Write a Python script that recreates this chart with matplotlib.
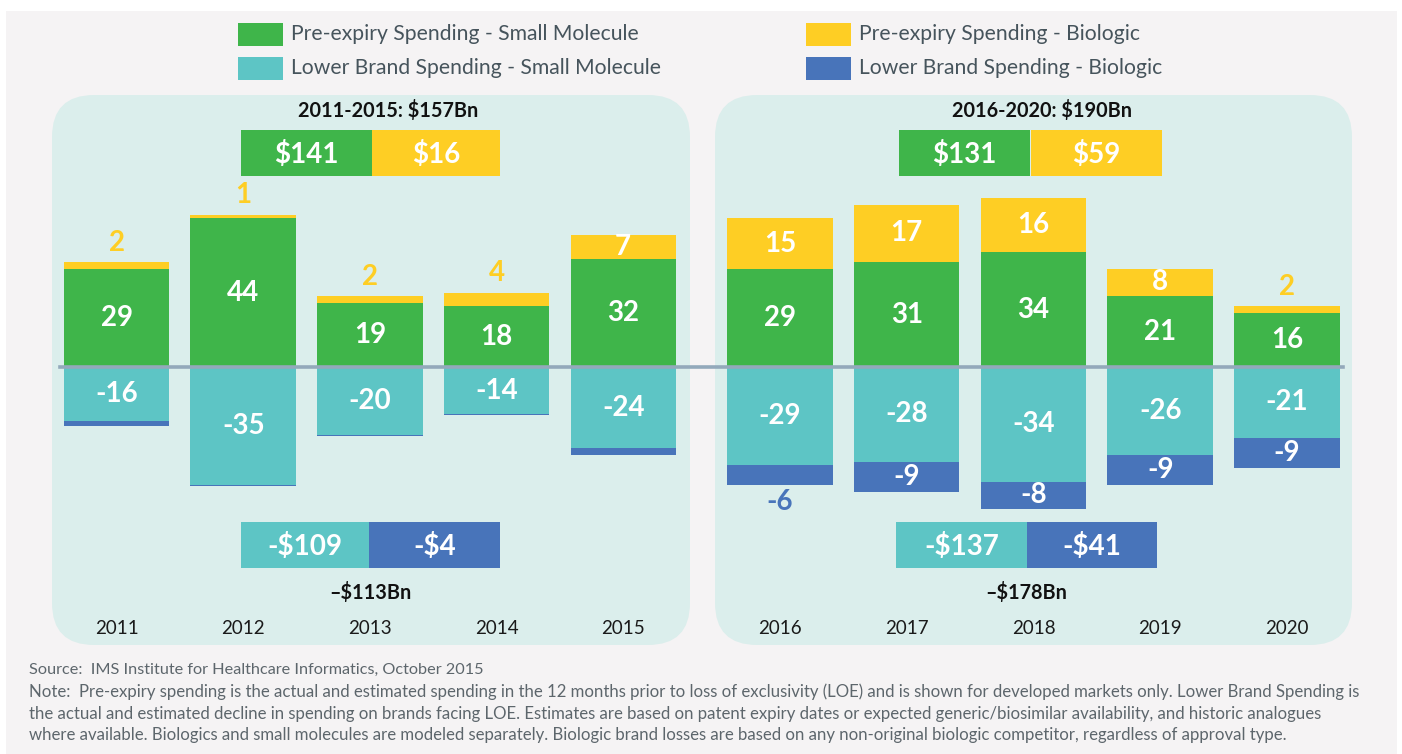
import matplotlib
matplotlib.use("Agg")
import matplotlib.pyplot as plt
from matplotlib.patches import FancyBboxPatch, Rectangle
import numpy as np

plt.rcParams['font.family'] = ['Lato', 'DejaVu Sans']

# ---------------- data ----------------
years = ['2011', '2012', '2013', '2014', '2015', '2016', '2017', '2018', '2019', '2020']
pre_small = [29, 44, 19, 18, 32, 29, 31, 34, 21, 16]
pre_bio = [2, 1, 2, 4, 7, 15, 17, 16, 8, 2]
lower_small = [-16, -35, -20, -14, -24, -29, -28, -34, -26, -21]
lower_bio = [-1.5, -0.3, -0.4, -0.3, -2, -6, -9, -8, -9, -9]
show_bio_neg_label = [False] * 5 + [True] * 5

periods = ['2011-2015', '2016-2020']
period_pre_small = [141, 131]
period_pre_bio = [16, 59]
period_pre_total = [157, 190]
period_lower_small = [-109, -137]
period_lower_bio = [-4, -41]
period_lower_total = [-113, -178]

legend_labels = ['Pre-expiry Spending - Small Molecule', 'Lower Brand Spending - Small Molecule',
                 'Pre-expiry Spending - Biologic', 'Lower Brand Spending - Biologic']

source_text = "Source:  IMS Institute for Healthcare Informatics, October 2015"
note_lines = [
    "Note:  Pre-expiry spending is the actual and estimated spending in the 12 months prior to loss of exclusivity (LOE) and is shown for developed markets only. Lower Brand Spending is",
    "the actual and estimated decline in spending on brands facing LOE. Estimates are based on patent expiry dates or expected generic/biosimilar availability, and historic analogues",
    "where available. Biologics and small molecules are modeled separately. Biologic brand losses are based on any non-original biologic competitor, regardless of approval type.",
]

# ---------------- style ----------------
GREEN = '#3fb54a'
YELLOW = '#fece24'
TEAL = '#5dc5c5'
BLUE = '#4874ba'
PANEL = '#dbeeec'
BG = '#f5f3f4'
ZERO = '#93a9bb'
LEG_TXT = '#46545c'
NOTE_TXT = '#5d666c'
BOLD = 'bold'

W, H = 1402, 754
fig = plt.figure(figsize=(W / 100, H / 100), dpi=100)
fig.patch.set_facecolor('white')

# background / decoration axes in pixel coordinates
bg = fig.add_axes([0, 0, 1, 1], zorder=0)
bg.set_xlim(0, W)
bg.set_ylim(H, 0)
bg.axis('off')
bg.add_patch(Rectangle((6, 11), 1391, 743, facecolor=BG, edgecolor='none'))
for x0, x1 in [(52, 690), (715, 1352)]:
    bg.add_patch(FancyBboxPatch((x0, 95), x1 - x0, 550,
                                boxstyle='round,pad=0,rounding_size=42',
                                facecolor=PANEL, edgecolor='none'))

# legend
leg_colors = [GREEN, TEAL, YELLOW, BLUE]
leg_pos = [(238, 23), (238, 57), (806, 23), (806, 57)]
for (lx, ly), c, lab in zip(leg_pos, leg_colors, legend_labels):
    bg.add_patch(Rectangle((lx, ly), 45, 23, facecolor=c, edgecolor='none'))
    bg.text(lx + 53, ly + 11.5, lab, fontsize=15.2, color=LEG_TXT, va='center', ha='left')

# footnotes
bg.text(29, 670, source_text, fontsize=11.7, color=NOTE_TXT, va='center', ha='left')
for i, line in enumerate(note_lines):
    bg.text(29, 692 + 21.7 * i, line, fontsize=12.1, color=NOTE_TXT, va='center', ha='left')

# period summary boxes
sum_specs = [
    dict(top_box=(241, 372, 500), bot_box=(241, 369, 500), title_x=388, total_x=370),
    dict(top_box=(899, 1030, 1162), bot_box=(896, 1027, 1157), title_x=1042, total_x=1026),
]
for k, spec in enumerate(sum_specs):
    a, b, c = spec['top_box']
    bg.add_patch(Rectangle((a, 130), b - a, 46, facecolor=GREEN, edgecolor='none'))
    bg.add_patch(Rectangle((b + k, 130), c - b - k, 46, facecolor=YELLOW, edgecolor='none'))
    bg.text((a + b) / 2, 154, f'${period_pre_small[k]}', fontsize=20, fontweight=BOLD,
            color='white', ha='center', va='center')
    bg.text((b + c) / 2, 154, f'${period_pre_bio[k]}', fontsize=20, fontweight=BOLD,
            color='white', ha='center', va='center')
    bg.text(spec['title_x'], 111, f'{periods[k]}: ${period_pre_total[k]}Bn', fontsize=14.3,
            fontweight=BOLD, color='#111111', ha='center', va='center')
    a, b, c = spec['bot_box']
    bg.add_patch(Rectangle((a, 522), b - a, 46, facecolor=TEAL, edgecolor='none'))
    bg.add_patch(Rectangle((b, 522), c - b, 46, facecolor=BLUE, edgecolor='none'))
    bg.text((a + b) / 2, 546, f'-${-period_lower_small[k]}', fontsize=20, fontweight=BOLD,
            color='white', ha='center', va='center')
    bg.text((b + c) / 2, 546, f'-${-period_lower_bio[k]}', fontsize=20, fontweight=BOLD,
            color='white', ha='center', va='center')
    bg.text(spec['total_x'], 592, f'\u2013${-period_lower_total[k]}Bn', fontsize=14.3,
            fontweight=BOLD, color='#111111', ha='center', va='center')

# ---------------- bars axes ----------------
unit_px = 126.7          # pixels per category step
x0_px = 116.5            # centre of first bar
gap_shift = 5.237        # position of the first bar of the second period
px_per_val = 3.38
zero_px = 367

ax = fig.add_axes([0, 0, 1, 1], zorder=1)
ax.patch.set_alpha(0)
ax.axis('off')
ax.set_xlim(-x0_px / unit_px, (W - x0_px) / unit_px)
ax.set_ylim(-(H - zero_px) / px_per_val, zero_px / px_per_val)

pos = np.array([i if i < 5 else i - 5 + gap_shift for i in range(len(years))], dtype=float)
bw = 0.833
ps = np.array(pre_small, float)
pb = np.array(pre_bio, float)
ls = np.array(lower_small, float)
lb = np.array(lower_bio, float)

ax.bar(pos, ps, bw, color=GREEN, linewidth=0)
ax.bar(pos, pb, bw, bottom=ps, color=YELLOW, linewidth=0)
ax.bar(pos, ls, bw, color=TEAL, linewidth=0)
ax.bar(pos, lb, bw, bottom=ls, color=BLUE, linewidth=0)
ax.axhline(0, xmin=60 / W, xmax=1343 / W, color=ZERO, linewidth=2.6, zorder=5)

lab_kw = dict(fontsize=20, fontweight=BOLD, ha='center', va='center')
for i in range(len(years)):
    x = pos[i]
    ax.text(x, ps[i] / 2, f'{pre_small[i]}', color='white', **lab_kw)
    if pb[i] >= 7:
        ax.text(x, ps[i] + pb[i] / 2, f'{pre_bio[i]}', color='white', **lab_kw)
    else:
        ax.annotate(f'{pre_bio[i]}', (x, ps[i] + pb[i]), xytext=(0, 14), textcoords='offset points',
                    color=YELLOW, **lab_kw)
    ax.text(x, ls[i] / 2, f'{lower_small[i]}', color='white', **lab_kw)
    if show_bio_neg_label[i]:
        if -lb[i] >= 8:
            ax.text(x, ls[i] + lb[i] / 2, f'{int(lower_bio[i])}', color='white', **lab_kw)
        else:
            ax.annotate(f'{int(lower_bio[i])}', (x, ls[i] + lb[i]), xytext=(0, -12),
                        textcoords='offset points', color=BLUE, **lab_kw)

# year labels
for i, y in enumerate(years):
    ax.text(pos[i], -(628 - zero_px) / px_per_val, y, fontsize=13.5, color='#1a1a1a',
            ha='center', va='center')

fig.savefig('out.png', dpi=100, facecolor=fig.get_facecolor())
